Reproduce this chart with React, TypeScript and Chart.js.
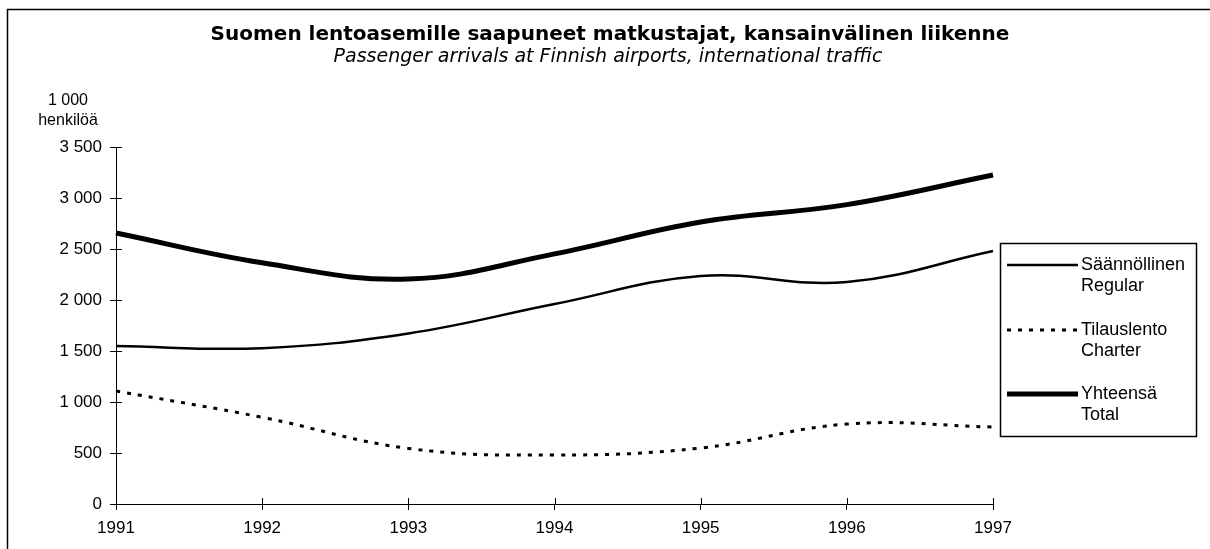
import React, { useEffect, useRef } from 'react';
import { Chart, registerables } from 'chart.js';

Chart.register(...registerables);

const years = ['1991', '1992', '1993', '1994', '1995', '1996', '1997'];
const regular = [1548, 1528, 1672, 1960, 2235, 2176, 2480];
const charter = [1108, 850, 545, 480, 549, 784, 755];
const total = [2657, 2365, 2206, 2452, 2765, 2935, 3225];
const yTickValues = [0, 500, 1000, 1500, 2000, 2500, 3000, 3500];

const titleText = 'Suomen lentoasemille saapuneet matkustajat, kansainvälinen liikenne';
const subtitleText = 'Passenger arrivals at Finnish airports, international traffic';
const unitLines = ['1 000', 'henkilöä'];
const legendLabels = [
  ['Säännöllinen', 'Regular'],
  ['Tilauslento', 'Charter'],
  ['Yhteensä', 'Total'],
];

const fmt = (v: number) => String(v).replace(/\B(?=(\d{3})+(?!\d))/g, ' ');

const SANS = '"Liberation Sans", Arial, Helvetica, sans-serif';

const decor = {
  id: 'decor',
  afterDraw(chart: any) {
    const ctx: CanvasRenderingContext2D = chart.ctx;
    const { left, bottom } = chart.chartArea;
    const line = (x1: number, y1: number, x2: number, y2: number) => {
      ctx.beginPath();
      ctx.moveTo(x1, y1);
      ctx.lineTo(x2, y2);
      ctx.stroke();
    };
    ctx.save();
    ctx.strokeStyle = '#000';
    ctx.fillStyle = '#000';
    // frame
    ctx.lineWidth = 1.5;
    ctx.beginPath();
    ctx.moveTo(7.5, 549);
    ctx.lineTo(7.5, 9.5);
    ctx.lineTo(1210, 9.5);
    ctx.stroke();
    // inner halves of the crossing tick marks
    ctx.lineWidth = 1;
    const ys = chart.scales.y;
    ys.ticks.forEach((t: any) => {
      const py = Math.round(ys.getPixelForValue(t.value)) + 0.5;
      line(left, py, left + 6, py);
    });
    const xs = chart.scales.x;
    xs.ticks.forEach((_t: any, i: number) => {
      const px = Math.round(xs.getPixelForTick(i)) + 0.5;
      line(px, bottom, px, bottom - 6);
    });
    // titles
    ctx.textAlign = 'center';
    ctx.textBaseline = 'alphabetic';
    ctx.font = 'bold 20px "DejaVu Sans"';
    ctx.fillText(titleText, 610, 40);
    ctx.font = 'oblique 19px "DejaVu Sans"';
    ctx.fillText(subtitleText, 608, 62);
    // unit label
    ctx.font = '16px ' + SANS;
    ctx.fillText(unitLines[0], 68, 105);
    ctx.fillText(unitLines[1], 68, 125);
    // legend
    ctx.lineWidth = 1.5;
    ctx.setLineDash([]);
    ctx.strokeRect(1000.5, 243.5, 196, 193);
    const rows = [265, 330, 394];
    ctx.textAlign = 'left';
    ctx.textBaseline = 'middle';
    ctx.font = '18px ' + SANS;
    chart.data.datasets.forEach((ds: any, i: number) => {
      const y = rows[i];
      ctx.lineWidth = ds.borderWidth;
      ctx.setLineDash(ds.borderDash || []);
      line(1007, y, 1078, y);
      ctx.setLineDash([]);
      ctx.fillText(legendLabels[i][0], 1081, y);
      ctx.fillText(legendLabels[i][1], 1081, y + 21);
    });
    ctx.restore();
  },
};

export default function App() {
  const ref = useRef<HTMLCanvasElement>(null);
  useEffect(() => {
    if (!ref.current) return;
    const chart = new Chart(ref.current, {
      type: 'line',
      data: {
        labels: years,
        datasets: [
          {
            label: legendLabels[0].join(' '),
            data: regular,
            borderColor: '#000',
            borderWidth: 2.5,
            tension: 0.4,
            pointRadius: 0,
            fill: false,
          },
          {
            label: legendLabels[1].join(' '),
            data: charter,
            borderColor: '#000',
            borderWidth: 3,
            borderDash: [4, 7],
            tension: 0.4,
            pointRadius: 0,
            fill: false,
          },
          {
            label: legendLabels[2].join(' '),
            data: total,
            borderColor: '#000',
            borderWidth: 5,
            tension: 0.4,
            pointRadius: 0,
            fill: false,
          },
        ],
      },
      options: {
        responsive: false,
        devicePixelRatio: 1,
        animation: false,
        layout: { padding: { left: 0, right: 217, top: 147, bottom: 0 } },
        plugins: {
          legend: { display: false },
          title: { display: false },
          tooltip: { enabled: false },
        },
        scales: {
          x: {
            type: 'category',
            offset: false,
            border: { display: true, color: '#000', width: 1 },
            grid: { drawOnChartArea: false, drawTicks: true, tickLength: 6, color: '#000' },
            ticks: { color: '#000', font: { family: SANS, size: 17 }, padding: 8, maxRotation: 0 },
            afterFit: (s: any) => {
              s.height = 45;
            },
          },
          y: {
            min: 0,
            max: 3500,
            border: { display: true, color: '#000', width: 1 },
            grid: { drawOnChartArea: false, drawTicks: true, tickLength: 6, color: '#000' },
            afterBuildTicks: (s: any) => {
              s.ticks = yTickValues.map((v) => ({ value: v }));
            },
            ticks: {
              color: '#000',
              font: { family: SANS, size: 17 },
              padding: 8,
              callback: (v: any) => fmt(Number(v)),
            },
            afterFit: (s: any) => {
              s.width = 116;
            },
          },
        },
      },
      plugins: [decor],
    });
    return () => chart.destroy();
  }, []);
  return (
    <div style={{ position: 'absolute', left: 0, top: 0, width: 1210, height: 549, background: '#fff' }}>
      <canvas ref={ref} width={1210} height={549} style={{ display: 'block' }} />
    </div>
  );
}
